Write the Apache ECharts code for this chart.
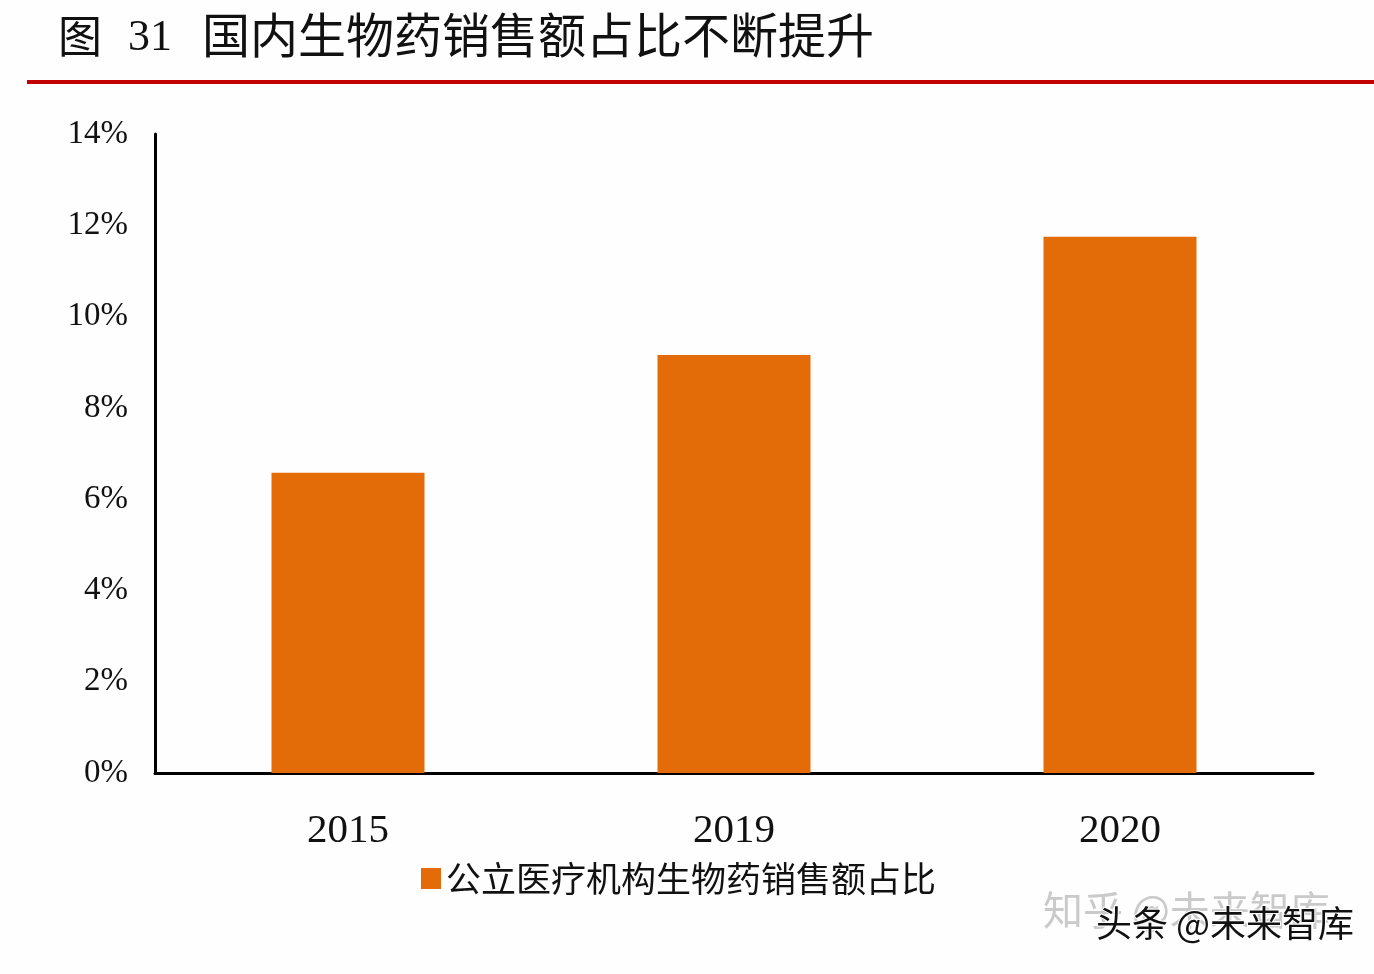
<!DOCTYPE html>
<html>
<head>
<meta charset="utf-8">
<style>html,body{margin:0;padding:0;background:#fff;}#c{width:1374px;height:974px;}</style>
<script src="https://cdn.jsdelivr.net/npm/echarts@6/dist/echarts.min.js"></script>
</head>
<body>
<div id="c"></div>
<script>
const categories = ['2015', '2019', '2020'];
const seriesName = '公立医疗机构生物药销售额占比';
const values = [6.58, 9.16, 11.75];
const titleText = '国内生物药销售额占比不断提升';

const chart = echarts.init(document.getElementById('c'));
const serif = '"Liberation Serif", "Times New Roman", serif';
const cjk = '"Noto Sans CJK SC", sans-serif';
chart.setOption({
  backgroundColor: '#fefefe',
  animation: false,
  grid: { left: 155, right: 61, top: 134, bottom: 201 },
  legend: {
    data: [seriesName],
    left: 416, top: 856,
    icon: 'rect', itemWidth: 20, itemHeight: 21, itemGap: 10,
    textStyle: { fontSize: 35, color: '#111', fontFamily: cjk }
  },
  xAxis: {
    type: 'category', data: categories,
    axisLine: { lineStyle: { color: '#000', width: 3 } },
    axisTick: { show: false },
    axisLabel: { fontSize: 41, color: '#111', fontFamily: serif, margin: 38 }
  },
  yAxis: {
    type: 'value', min: 0, max: 14, interval: 2,
    axisLine: { show: true, lineStyle: { color: '#000', width: 3 } },
    axisTick: { show: false },
    splitLine: { show: false },
    axisLabel: { formatter: '{value}%', fontSize: 33, color: '#111', fontFamily: serif, margin: 27, padding: [4, 0, 0, 0] }
  },
  series: [{
    name: seriesName, type: 'bar', data: values, barWidth: 153,
    itemStyle: { color: '#E36C09' }
  }],
  graphic: [
    { type: 'rect', left: 27, top: 80, shape: { width: 1347, height: 4 }, style: { fill: '#C00000' } },
    { type: 'text', left: 58, top: 14, style: { text: '图', font: '44px ' + cjk, fill: '#111' } },
    { type: 'text', left: 128, top: 16, style: { text: '31', font: '44px ' + serif, fill: '#111' } },
    { type: 'text', left: 202, top: 11, style: { text: titleText, font: '48px ' + cjk, fill: '#111' } },
    { type: 'text', left: 1043, top: 890, style: { text: '知乎 @未来智库', font: '40px ' + cjk, fill: 'rgba(150,150,150,0.5)' } },
    { type: 'text', left: 1095, top: 904, style: { text: '头条 @未来智库', font: '36px ' + cjk, fill: '#111', stroke: '#fff', lineWidth: 2 } }
  ]
});
</script>
</body>
</html>
